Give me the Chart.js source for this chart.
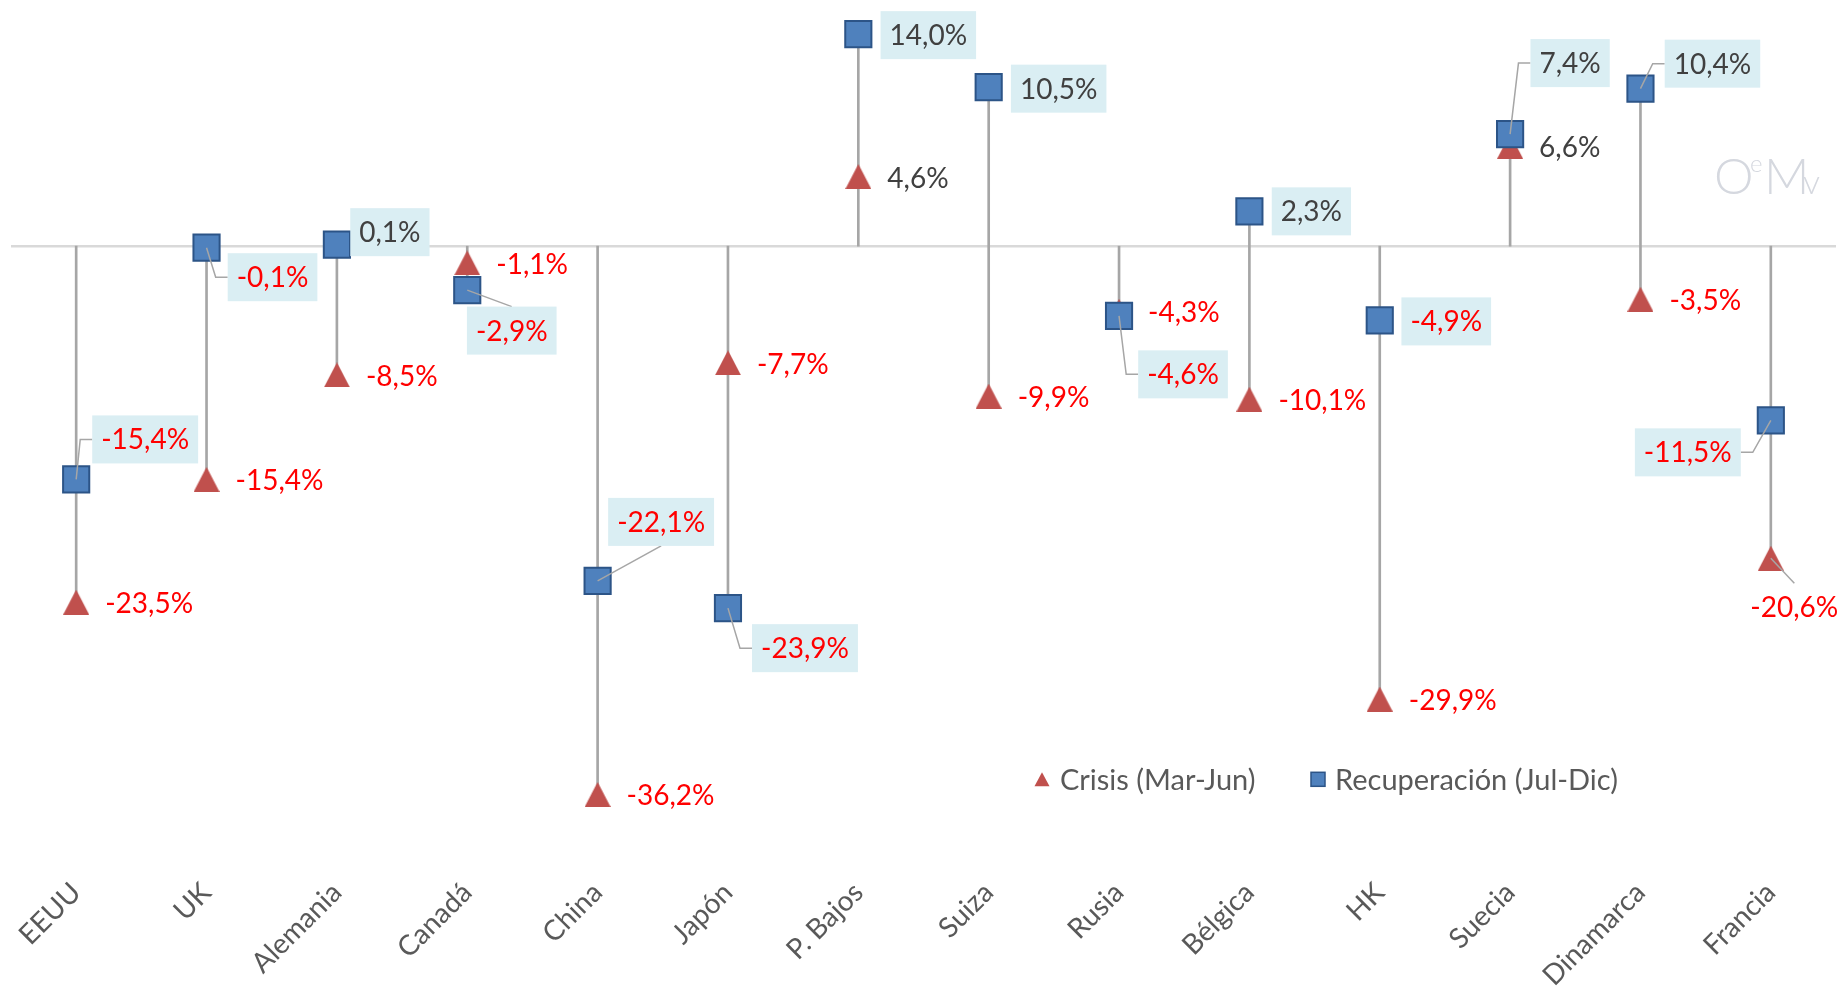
<!DOCTYPE html>
<html lang="es">
<head>
<meta charset="utf-8">
<title>Crisis y recuperación</title>
<script src="https://cdn.jsdelivr.net/npm/chart.js@4.4.1/dist/chart.umd.min.js"></script>
<style>
  html, body { margin: 0; padding: 0; background: #ffffff; }
  #wrap { position: relative; width: 1840px; height: 988px; }
</style>
</head>
<body>
<div id="wrap"><canvas id="chart" width="1840" height="988"></canvas></div>
<script>
const countries = ['EEUU', 'UK', 'Alemania', 'Canadá', 'China', 'Japón', 'P. Bajos', 'Suiza', 'Rusia', 'Bélgica', 'HK', 'Suecia', 'Dinamarca', 'Francia'];
const crisis = [-23.5, -15.4, -8.5, -1.1, -36.2, -7.7, 4.6, -9.9, -4.3, -10.1, -29.9, 6.6, -3.5, -20.6];
const recovery = [-15.4, -0.1, 0.1, -2.9, -22.1, -23.9, 14.0, 10.5, -4.6, 2.3, -4.9, 7.4, 10.4, -11.5];
const seriesNames = ['Crisis (Mar-Jun)', 'Recuperación (Jul-Dic)'];
const yMin = -40;
const yMax = 15;

// where the labels were dragged to in the original, px from the marker: [dx, dy, leader]
const recLabelPlace = [
  [69, -40, 'left'], [66, 29.5, 'left'], [53, -12.5, null], [44.5, 40.5, 'top'],
  [63.5, -59, 'bottom'], [77, 40, 'left'], [70, 1, null], [70, 1.5, null],
  [64, 58.5, 'left'], [62, 0, null], [66.5, 1, null], [60, -71, 'left'],
  [72, -25, 'left'], [-83, 32, 'right']
];
const crisisLabelPlace = [null, null, null, null, null, null, null, null, null, null, null, null, null, [23.5, 49, 'top']];

const FONT = '28px Lato';
const RED = '#c0504d';
const BLUE = '#4f81bd';
const BLUE_EDGE = '#2c5487';

// high-low line: from zero to the farthest of both values
const spans = crisis.map((c, i) => [Math.min(0, c, recovery[i]), Math.max(0, c, recovery[i])]);

function makeTriangle(w, h, color) {
  const c = document.createElement('canvas');
  c.width = w;
  c.height = h;
  const g = c.getContext('2d');
  g.fillStyle = color;
  g.beginPath();
  g.moveTo(w / 2, 0);
  g.lineTo(w, h);
  g.lineTo(0, h);
  g.closePath();
  g.fill();
  return c;
}

const fmt = v => v.toFixed(1).replace('.', ',') + '%';

function drawLabel(ctx, px, py, value, place, boxed) {
  const text = fmt(value);
  ctx.font = FONT;
  const w = ctx.measureText(text).width;
  const padX = boxed ? 9 : 0;
  const h = 48;
  let cx, cy;
  if (place) {
    cx = px + place[0];
    cy = py + place[1];
  } else {
    cx = px + 29 + w / 2;
    cy = py + 1;
  }
  const left = cx - w / 2 - padX;
  const right = cx + w / 2 + padX;
  const top = cy - h / 2;
  const bottom = cy + h / 2;

  const leader = place ? place[2] : null;
  if (leader) {
    ctx.save();
    ctx.strokeStyle = '#a6a6a6';
    ctx.lineWidth = 1.5;
    ctx.beginPath();
    ctx.moveTo(px, py);
    if (leader === 'left') {
      ctx.lineTo(left - 12, cy);
      ctx.lineTo(left, cy);
    } else if (leader === 'right') {
      ctx.lineTo(right + 12, cy);
      ctx.lineTo(right, cy);
    } else if (leader === 'top') {
      ctx.lineTo(cx, top);
    } else if (leader === 'bottom') {
      ctx.lineTo(cx, bottom);
    }
    ctx.stroke();
    ctx.restore();
  }
  if (boxed) {
    ctx.fillStyle = '#daeef3';
    ctx.fillRect(left, top, right - left, h);
  }
  ctx.fillStyle = value < 0 ? '#ff0000' : '#404040';
  ctx.textAlign = 'center';
  ctx.textBaseline = 'middle';
  ctx.fillText(text, cx, cy + 1);
}

const zeroLine = {
  id: 'zeroLine',
  beforeDatasetsDraw(chart) {
    const { ctx, chartArea } = chart;
    const y0 = chart.scales.y.getPixelForValue(0);
    ctx.save();
    ctx.strokeStyle = '#d9d9d9';
    ctx.lineWidth = 2.5;
    ctx.beginPath();
    ctx.moveTo(chartArea.left, y0);
    ctx.lineTo(chartArea.right, y0);
    ctx.stroke();
    ctx.restore();
  }
};

const pointLabels = {
  id: 'pointLabels',
  afterDatasetsDraw(chart) {
    const ctx = chart.ctx;
    const recPts = chart.getDatasetMeta(0).data;
    const criPts = chart.getDatasetMeta(1).data;
    ctx.save();
    criPts.forEach((p, i) => drawLabel(ctx, p.x, p.y, crisis[i], crisisLabelPlace[i], false));
    recPts.forEach((p, i) => drawLabel(ctx, p.x, p.y, recovery[i], recLabelPlace[i], true));
    ctx.restore();
  }
};

const legendAndLogo = {
  id: 'legendAndLogo',
  afterDraw(chart) {
    const { ctx, chartArea } = chart;
    const ly = chart.scales.y.getPixelForValue(-35.2);
    let lx = chartArea.left + 1031;
    ctx.save();
    ctx.font = '29px Lato';
    ctx.textBaseline = 'middle';
    ctx.textAlign = 'left';

    ctx.fillStyle = RED;
    ctx.beginPath();
    ctx.moveTo(lx, ly - 7);
    ctx.lineTo(lx + 7.5, ly + 7);
    ctx.lineTo(lx - 7.5, ly + 7);
    ctx.closePath();
    ctx.fill();
    ctx.fillStyle = '#595959';
    ctx.fillText(seriesNames[0], lx + 18, ly + 1);

    lx = chartArea.left + 1307;
    ctx.fillStyle = BLUE;
    ctx.fillRect(lx - 7, ly - 7, 14, 14);
    ctx.strokeStyle = BLUE_EDGE;
    ctx.lineWidth = 1.5;
    ctx.strokeRect(lx - 7, ly - 7, 14, 14);
    ctx.fillStyle = '#595959';
    ctx.fillText(seriesNames[1], lx + 17, ly + 1);

    // OeMv watermark
    ctx.fillStyle = '#d5d8df';
    ctx.textBaseline = 'alphabetic';
    ctx.font = '300 50px Lato';
    ctx.fillText('O', 1714, 194);
    ctx.font = '300 24px Lato';
    ctx.fillText('e', 1750, 172);
    ctx.font = '300 50px Lato';
    ctx.fillText('M', 1764, 194);
    ctx.font = '300 34px Lato';
    ctx.fillText('v', 1803, 194);
    ctx.restore();
  }
};

new Chart(document.getElementById('chart'), {
  data: {
    labels: countries,
    datasets: [
      {
        type: 'line',
        label: seriesNames[1],
        data: recovery,
        showLine: false,
        pointStyle: 'rect',
        pointRadius: 18.5,
        pointHoverRadius: 18.5,
        pointBackgroundColor: BLUE,
        pointBorderColor: BLUE_EDGE,
        pointBorderWidth: 2,
        order: 1
      },
      {
        type: 'line',
        label: seriesNames[0],
        data: crisis,
        showLine: false,
        pointStyle: makeTriangle(26, 25, RED),
        pointRadius: 13,
        pointHoverRadius: 13,
        order: 2
      },
      {
        type: 'bar',
        label: 'rango',
        data: spans,
        backgroundColor: '#a6a6a6',
        barThickness: 2,
        order: 3
      }
    ]
  },
  options: {
    animation: false,
    responsive: false,
    layout: { autoPadding: false, padding: { left: 11, right: 4, top: 19, bottom: 0 } },
    plugins: {
      legend: { display: false },
      tooltip: { enabled: false }
    },
    scales: {
      x: {
        offset: true,
        grid: { display: false, drawTicks: false },
        border: { display: false },
        ticks: {
          minRotation: 45,
          maxRotation: 45,
          autoSkip: false,
          padding: 24,
          color: '#595959',
          font: { family: 'Lato', size: 28 }
        },
        afterFit: scale => {
          scale.height = 136;
          scale.paddingLeft = 0;
          scale.paddingRight = 0;
        }
      },
      y: { display: false, min: yMin, max: yMax }
    }
  },
  plugins: [zeroLine, pointLabels, legendAndLogo]
});
</script>
</body>
</html>
